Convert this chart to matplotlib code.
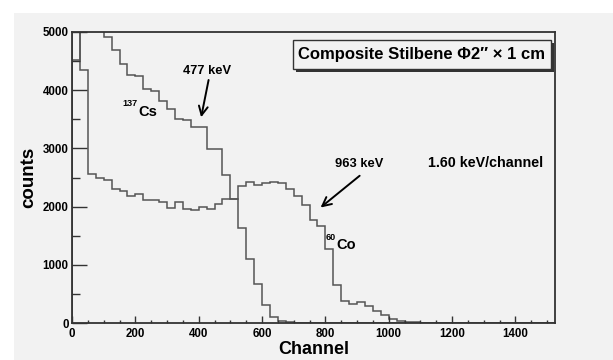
import matplotlib.pyplot as plt
from matplotlib.patches import Rectangle
import numpy as np

plt.rcParams['font.family'] = ['Liberation Sans', 'DejaVu Sans']
plt.rcParams['font.weight'] = 'bold'

# histogram binning (channels)
bin_width = 25
x_max = 1525
edges = np.arange(0, x_max + 1, bin_width)

# 137Cs spectrum, counts per bin (first bins run off the top of the frame)
cs_counts = [4520, 5600, 5500, 5300, 4915, 4683, 4454, 4266, 4237, 4014,
             3980, 3808, 3683, 3499, 3482, 3370, 3370, 2990, 2990, 2536,
             2125, 1638, 1093, 672, 306, 103, 26, 10]
# 60Co spectrum, counts per bin
co_counts = [5600, 4345, 2567, 2488, 2464, 2310, 2262, 2190, 2222, 2110,
             2115, 2072, 1978, 2078, 1967, 1950, 2000, 1967, 2053, 2135,
             2122, 2355, 2430, 2375, 2410, 2428, 2400, 2300, 2178, 2020,
             1772, 1675, 1275, 660, 370, 332, 365, 297, 211, 137,
             69, 34, 12, 10, 5]

nbins = len(edges) - 1
cs = np.array(cs_counts + [0] * (nbins - len(cs_counts)), dtype=float)
co = np.array(co_counts + [0] * (nbins - len(co_counts)), dtype=float)

bg = '#f2f2f2'
fig = plt.figure(figsize=(6.13, 3.6), dpi=100)
fig.patch.set_facecolor('white')
# grey canvas of the pasted ROOT figure
fig.patches.append(Rectangle((14 / 613, 0), 1, 347 / 360, transform=fig.transFigure,
                             facecolor=bg, edgecolor='none', zorder=-10))

ax = fig.add_axes([72 / 613, 1 - 323 / 360, 483 / 613, 291 / 360])
ax.set_facecolor(bg)

ax.stairs(cs, edges, color='#555555', lw=1.1)
ax.stairs(co, edges, color='#555555', lw=1.1)

ax.set_xlim(0, x_max)
ax.set_ylim(0, 5000)
ax.set_xticks(np.arange(0, 1401, 200))
ax.set_xticks(np.arange(0, 1501, 50), minor=True)
ax.set_yticks(np.arange(0, 5001, 1000))
ax.set_yticks(np.arange(0, 5001, 500), minor=True)
ax.tick_params(axis='both', which='both', direction='in', labelsize=8.3, color='#333333')
ax.tick_params(axis='y', which='major', length=10.5, width=1.0, pad=2.5)
ax.tick_params(axis='y', which='minor', length=5.5, width=1.0)
ax.tick_params(axis='x', which='major', length=5, width=1.0, pad=3.5)
ax.tick_params(axis='x', which='minor', length=2.5, width=1.0)
for s in ax.spines.values():
    s.set_color('#333333')
    s.set_linewidth(1.3)

ax.set_xlabel('Channel', fontsize=13, fontweight='bold', labelpad=1)
ax.set_ylabel('counts', fontsize=13.5, fontweight='bold', labelpad=4)

# title pave with shadow
bx0, by0, bw, bh = (293 - 72) / 483, (323 - 69) / 291, 258 / 483, 29 / 291
ax.add_patch(Rectangle((bx0 + 3 / 483, by0 - 3 / 291), bw, bh, transform=ax.transAxes,
                       facecolor='#333333', edgecolor='none', zorder=5))
ax.add_patch(Rectangle((bx0, by0), bw, bh, transform=ax.transAxes,
                       facecolor=bg, edgecolor='#333333', lw=1.0, zorder=6))
ax.text(bx0 + bw / 2, by0 + bh / 2, 'Composite Stilbene \u03a62\u2033 \u00d7 1 cm',
        transform=ax.transAxes, ha='center', va='center', fontsize=12, zorder=7)

# annotations
ax.text(427, 4335, '477 keV', ha='center', va='center', fontsize=9.3)
ax.annotate('', xy=(406, 3488), xytext=(433, 4222),
            arrowprops=dict(arrowstyle='->', lw=1.4, color='black', mutation_scale=16))
ax.text(906, 2732, '963 keV', ha='center', va='center', fontsize=9.3)
ax.annotate('', xy=(778, 1954), xytext=(915, 2560),
            arrowprops=dict(arrowstyle='->', lw=1.4, color='black', mutation_scale=16))
ax.text(1307, 2754, '1.60 keV/channel', ha='center', va='center', fontsize=10.3)

ax.text(207, 3763, '137', ha='right', va='center', fontsize=6.5)
ax.text(210, 3634, 'Cs', ha='left', va='center', fontsize=10.5)
ax.text(834, 1473, '60', ha='right', va='center', fontsize=6.5)
ax.text(836, 1345, 'Co', ha='left', va='center', fontsize=10.5)

fig.savefig('out.png', dpi=100)
